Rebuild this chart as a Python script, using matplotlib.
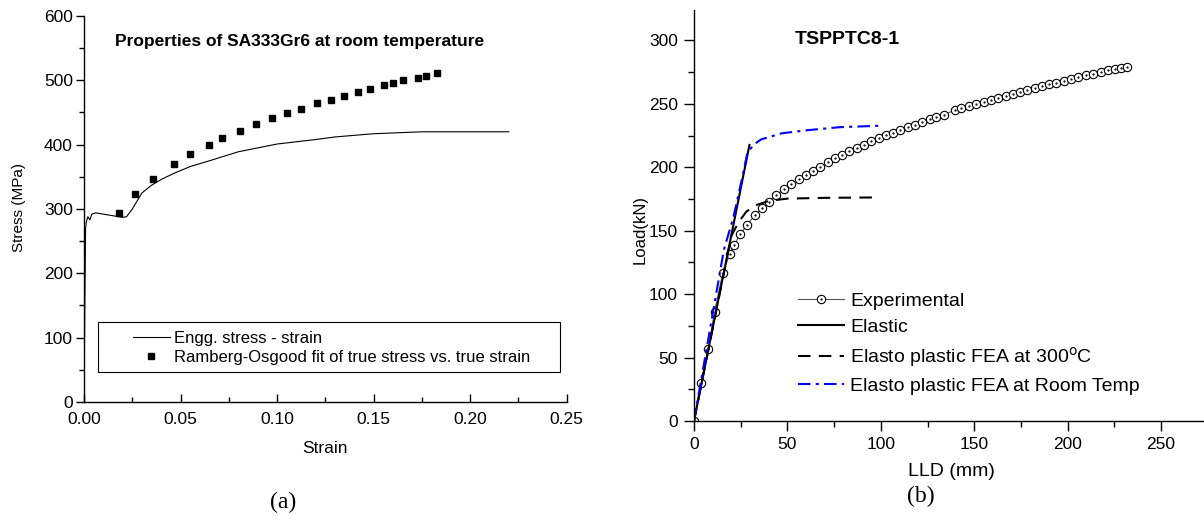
import matplotlib
matplotlib.use("Agg")
import matplotlib.pyplot as plt
from matplotlib.patches import Rectangle
from matplotlib.ticker import MultipleLocator, FormatStrFormatter

plt.rcParams['font.family'] = ['Liberation Sans', 'DejaVu Sans']

# (a) engineering stress-strain curve
engg_strain = [0.0, 0.0004, 0.0008, 0.0012, 0.002, 0.003, 0.004, 0.006, 0.008,
               0.012, 0.016, 0.020, 0.022, 0.025, 0.030, 0.035, 0.040, 0.047,
               0.055, 0.065, 0.080, 0.100, 0.120, 0.130, 0.150, 0.175, 0.200, 0.220]
engg_stress = [0, 150, 270, 280, 288, 283, 292, 294, 293,
               291, 289, 287, 288, 300, 325, 337, 346, 356,
               366, 375, 389, 401, 408, 412, 417, 420, 420, 420]

# (a) Ramberg-Osgood fit points
ro_strain = [0.0181, 0.0265, 0.0355, 0.0464, 0.0548, 0.0645, 0.0717, 0.0807,
             0.0891, 0.0976, 0.1051, 0.1124, 0.1208, 0.1277, 0.1344, 0.1418,
             0.1479, 0.1553, 0.1601, 0.1653, 0.1729, 0.1772, 0.1827]
ro_stress = [294, 324, 347, 370, 385, 400, 411, 421, 432, 441, 449, 456, 464,
             470, 476, 482, 487, 493, 496, 500, 504, 507, 511]

# (b) experimental load vs LLD
exp_lld = [0.0, 3.6, 7.7, 11.0, 15.4, 19.1, 21.6, 24.7, 28.4, 32.4, 36.5, 40.1,
           44.0, 48.0, 51.9, 56.0, 59.8, 63.7, 67.5, 71.6, 75.4, 79.3, 83.2,
           87.2, 91.0, 94.9, 98.8, 102.6, 106.5, 110.4, 114.4, 118.5, 122.3,
           126.2, 129.8, 133.9, 139.6, 143.1, 147.0, 151.2, 155.3, 159.1,
           163.0, 166.8, 170.7, 174.6, 178.4, 182.5, 186.3, 190.2, 194.0,
           197.9, 201.8, 205.6, 209.7, 213.7, 217.6, 221.6, 225.5, 228.8, 231.7]
exp_load = [0.0, 29.8, 56.4, 86.2, 116.5, 131.6, 138.7, 147.2, 154.5, 162.0,
            167.7, 173.0, 177.8, 182.5, 186.7, 190.7, 194.0, 197.2, 200.4,
            203.9, 207.0, 209.9, 212.8, 215.2, 217.8, 220.7, 222.8, 225.2,
            227.3, 229.4, 231.6, 233.6, 235.8, 237.9, 239.7, 241.5, 245.0,
            246.6, 248.2, 250.0, 251.6, 253.2, 254.7, 256.5, 258.1, 259.5,
            261.0, 262.4, 264.0, 265.3, 266.6, 268.0, 269.5, 270.8, 272.4,
            273.7, 275.1, 276.3, 277.4, 278.2, 279.3]

elastic_lld = [0.0, 29.7]
elastic_load = [0.0, 217.6]

fea300_lld = [0.0, 20.0, 24.0, 28.0, 33.0, 40.0, 50.0, 70.0, 96.0]
fea300_load = [0.0, 146.0, 157.0, 165.0, 170.0, 173.5, 175.3, 175.9, 176.2]

fearoom_lld = [0.0, 16.0, 21.0, 26.0, 28.5, 32.0, 36.0, 47.0, 62.0, 78.0, 100.7]
fearoom_load = [0.0, 135.0, 160.0, 193.0, 211.0, 218.0, 222.0, 226.8, 229.4,
                231.6, 232.8]


def style_axis(ax, size, xdir, ydir, length, xpad, ypad):
    for side in ['top', 'right']:
        ax.spines[side].set_visible(False)
    for side in ['left', 'bottom']:
        ax.spines[side].set_linewidth(1.0)
    ax.tick_params(axis='x', which='major', direction=xdir, length=length,
                   width=1, labelsize=size, pad=xpad)
    ax.tick_params(axis='y', which='major', direction=ydir, length=length,
                   width=1, labelsize=size, pad=ypad)
    ax.tick_params(axis='x', which='minor', direction=xdir,
                   length=length * 0.6, width=1)
    ax.tick_params(axis='y', which='minor', direction=ydir,
                   length=length * 0.6, width=1)


fig = plt.figure(figsize=(12.04, 5.23), dpi=100)

# ---- panel (a)
ax1 = fig.add_axes([0.0698, 0.2314, 0.4009, 0.738])
ax1.plot(engg_strain, engg_stress, color='black', lw=0.8,
         label='Engg. stress - strain')
ax1.plot(ro_strain, ro_stress, 's', color='black', ms=5, ls='none',
         label='Ramberg-Osgood fit of true stress vs. true strain')
ax1.set_xlim(0, 0.25)
ax1.set_ylim(0, 600)
ax1.xaxis.set_major_locator(MultipleLocator(0.05))
ax1.xaxis.set_minor_locator(MultipleLocator(0.025))
ax1.xaxis.set_major_formatter(FormatStrFormatter('%.2f'))
ax1.yaxis.set_major_locator(MultipleLocator(100))
ax1.yaxis.set_minor_locator(MultipleLocator(50))
style_axis(ax1, 12.5, 'in', 'out', 6, 7.5, 2.0)
ax1.set_xlabel('Strain', fontsize=12.5)
ax1.set_ylabel('Stress (MPa)', fontsize=11)
ax1.xaxis.set_label_coords(0.5, -0.101)
ax1.yaxis.set_label_coords(-0.12, 0.505)
ax1.text(0.064, 0.933, 'Properties of SA333Gr6 at room temperature',
         transform=ax1.transAxes, fontsize=12.5, fontweight='bold',
         ha='left', va='center')
ax1.add_patch(Rectangle((0.029, 0.078), 0.957, 0.129, transform=ax1.transAxes,
                        fill=False, edgecolor='black', lw=0.8))
ax1.legend(loc='upper left', bbox_to_anchor=(0.1015, 0.185), fontsize=12,
           frameon=False, handlelength=2.2, handletextpad=0.25,
           borderaxespad=0, borderpad=0, labelspacing=0.25)

# ---- panel (b)
ax2 = fig.add_axes([0.5764, 0.195, 0.4236, 0.786])
exp_line, = ax2.plot(exp_lld, exp_load, '-', color='#555555', lw=0.8,
                     marker='o', ms=6, mfc='white', mec='black', mew=0.8)
exp_dots, = ax2.plot(exp_lld, exp_load, '.', color='black', ms=1.2)
el_line, = ax2.plot(elastic_lld, elastic_load, '-', color='black', lw=1.5)
f3_line, = ax2.plot(fea300_lld, fea300_load, color='black', lw=1.5,
                    dashes=(6, 4))
fr_line, = ax2.plot(fearoom_lld, fearoom_load, color='blue', lw=1.5,
                    dashes=(6, 2.5, 1.5, 2.5))
ax2.set_xlim(0, 273)
ax2.set_ylim(0, 324)
ax2.xaxis.set_major_locator(MultipleLocator(50))
ax2.xaxis.set_minor_locator(MultipleLocator(25))
ax2.yaxis.set_major_locator(MultipleLocator(50))
ax2.yaxis.set_minor_locator(MultipleLocator(25))
style_axis(ax2, 12.5, 'out', 'out', 7, 4.5, 4.5)
ax2.set_xlabel('LLD (mm)', fontsize=14)
ax2.set_ylabel('Load(kN)', fontsize=12)
ax2.xaxis.set_label_coords(0.504, -0.103)
ax2.yaxis.set_label_coords(-0.09, 0.465)
ax2.text(0.198, 0.927, 'TSPPTC8-1', transform=ax2.transAxes, fontsize=14,
         fontweight='bold', ha='left', va='center')
ax2.legend([(exp_line, exp_dots), el_line, f3_line, fr_line],
           ['Experimental', 'Elastic', r'Elasto plastic FEA at 300$^{\rm o}$C',
            'Elasto plastic FEA at Room Temp'],
           loc='upper left', bbox_to_anchor=(0.204, 0.314), fontsize=14,
           frameon=False, handlelength=2.37, handletextpad=0.31,
           borderaxespad=0, borderpad=0, labelspacing=0.45)

fig.text(0.235, 0.04, '(a)', fontsize=17, family='Liberation Serif',
         ha='center', va='center')
fig.text(0.765, 0.05, '(b)', fontsize=17, family='Liberation Serif',
         ha='center', va='center')

fig.savefig('out.png', dpi=100)
